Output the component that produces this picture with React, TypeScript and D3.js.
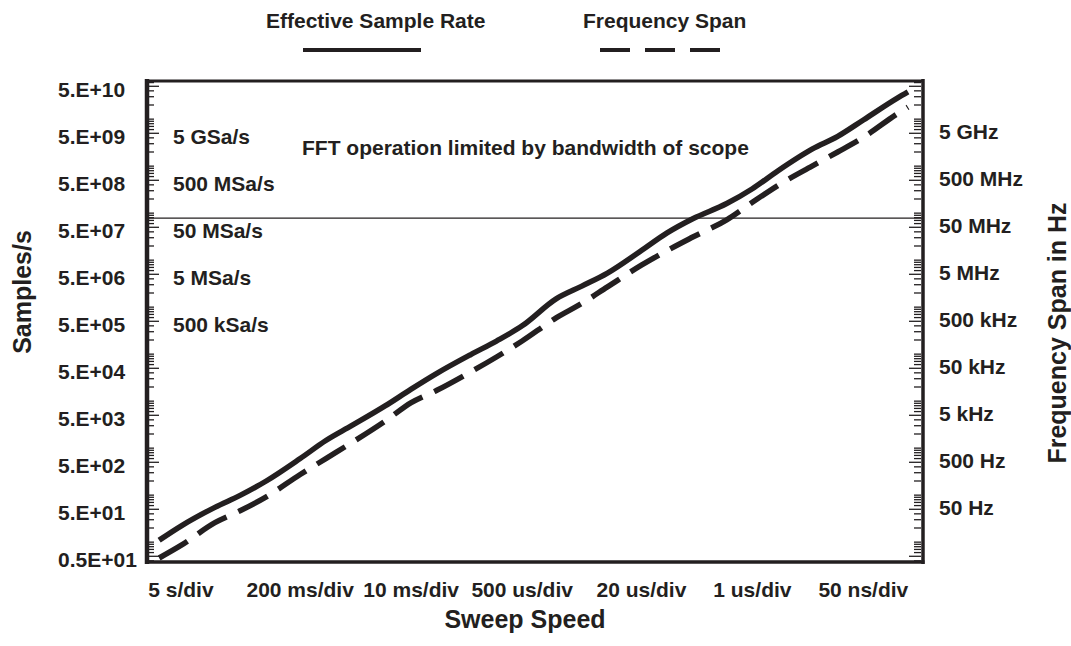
import React from "react";
import * as d3 from "d3";

// ---- data ----
const sweepTickValues = [5, 0.2, 0.01, 5e-4, 2e-5, 1e-6, 5e-8];
const sweepTickLabels = ["5 s/div", "200 ms/div", "10 ms/div", "500 us/div", "20 us/div", "1 us/div", "50 ns/div"];

// sweep speed in s/div (x of each curve point)
const sweepSpeeds = [9, 5, 2, 1, 0.5, 0.2, 0.1, 0.05, 0.02, 0.01, 5e-3, 2e-3, 1e-3, 5e-4, 2e-4, 1e-4, 5e-5, 2e-5, 1e-5, 5e-6, 2e-6, 1e-6, 5e-7, 2e-7, 1e-7, 5e-8, 2e-8, 1.5e-8];
const effectiveSampleRate = [11, 22, 55, 100, 200, 600, 1450, 3000, 8000, 18000, 39000, 98000, 190000, 400000, 1.5e6, 2.8e6, 5.3e6, 1.6e7, 3.8e7, 7.6e7, 1.6e8, 3.3e8, 8e8, 2.3e9, 4.3e9, 9.6e9, 2.8e10, 3.8e10];
const frequencySpan = [4.6, 8.5, 26, 47, 92, 275, 600, 1300, 3800, 9300, 17000, 42000, 87000, 190000, 590000, 1.2e6, 2.7e6, 7.8e6, 1.6e7, 3.1e7, 7.2e7, 1.7e8, 3.9e8, 1e9, 2e9, 4.1e9, 1.3e10, 1.8e10];

const leftTickValues = [5e10, 5e9, 5e8, 5e7, 5e6, 5e5, 5e4, 5e3, 5e2, 5e1, 5];
const leftTickLabels = ["5.E+10", "5.E+09", "5.E+08", "5.E+07", "5.E+06", "5.E+05", "5.E+04", "5.E+03", "5.E+02", "5.E+01", "0.5E+01"];
const rightTickValues = [5e9, 5e8, 5e7, 5e6, 5e5, 5e4, 5e3, 5e2, 5e1];
const rightTickLabels = ["5 GHz", "500 MHz", "50 MHz", "5 MHz", "500 kHz", "50 kHz", "5 kHz", "500 Hz", "50 Hz"];
const rateNoteValues = [5e9, 5e8, 5e7, 5e6, 5e5];
const rateNoteLabels = ["5 GSa/s", "500 MSa/s", "50 MSa/s", "5 MSa/s", "500 kSa/s"];
const bandwidthLimit = 7.8e7;
const bandwidthNote = "FFT operation limited by bandwidth of scope";
const seriesNames = ["Effective Sample Rate", "Frequency Span"];

const W = 1071;
const H = 646;
const FONT = "'Liberation Sans', Arial, Helvetica, sans-serif";
const INK = "#231f20";

export default function App() {
  const left = 147, right = 923, top = 81, bottom = 562;
  const x = d3.scaleLog().domain([12.5, 1e-8]).range([left, right]);
  const y = d3.scaleLog().domain([3.78, 6.48e10]).range([bottom, top]);

  const minorTicks: { v: number; major: boolean }[] = [];
  for (let n = 0; n <= 10; n++) {
    for (let k = 1; k <= 9; k++) {
      const v = k * Math.pow(10, n);
      if (v >= 3.78 && v <= 6.48e10) minorTicks.push({ v, major: k === 5 });
    }
  }

  const line = d3
    .line<[number, number]>()
    .x((d) => x(d[0]))
    .y((d) => y(d[1]))
    .curve(d3.curveMonotoneX);
  const solidPts = sweepSpeeds.map((s, i) => [s, effectiveSampleRate[i]] as [number, number]);
  const dashPts = sweepSpeeds.map((s, i) => [s, frequencySpan[i]] as [number, number]);

  const txt = { fontFamily: FONT, fontWeight: 700, fill: INK } as const;

  return (
    <svg width={W} height={H} style={{ position: "absolute", left: 0, top: 0, background: "#fff" }}>
      {/* legend */}
      <text x={266} y={28} fontSize={21} {...txt}>{seriesNames[0]}</text>
      <line x1={303} x2={421} y1={50} y2={50} stroke={INK} strokeWidth={4} />
      <text x={583} y={28} fontSize={21} {...txt}>{seriesNames[1]}</text>
      <line x1={600} x2={720} y1={50} y2={50} stroke={INK} strokeWidth={4} strokeDasharray="30 15" />

      {/* bandwidth limit line */}
      <line x1={left} x2={right} y1={y(bandwidthLimit)} y2={y(bandwidthLimit)} stroke={INK} strokeWidth={1.3} />

      {/* ticks */}
      {minorTicks.map((t, i) => (
        <g key={"t" + i}>
          <line x1={left + 2} x2={left + (t.major ? 12 : 7)} y1={y(t.v)} y2={y(t.v)} stroke={INK} strokeWidth={1.3} />
          <line x1={right - 2} x2={right - (t.major ? 14 : 9)} y1={y(t.v)} y2={y(t.v)} stroke={INK} strokeWidth={1.3} />
        </g>
      ))}

      {/* curves */}
      <path d={line(solidPts) || ""} fill="none" stroke={INK} strokeWidth={5.5} />
      <path d={line(dashPts) || ""} fill="none" stroke={INK} strokeWidth={5.5} strokeDasharray="33 13" />

      {/* frame */}
      <line x1={left} x2={left} y1={top - 2} y2={bottom + 2} stroke={INK} strokeWidth={4.5} />
      <line x1={right} x2={right} y1={top - 2} y2={bottom + 2} stroke={INK} strokeWidth={3.5} />
      <line x1={left} x2={right} y1={top} y2={top} stroke={INK} strokeWidth={3} />
      <line x1={left} x2={right + 1.5} y1={bottom} y2={bottom} stroke={INK} strokeWidth={3.5} />

      {/* left axis labels */}
      {leftTickValues.map((v, i) => (
        <text key={"l" + i} x={58} y={y(v) + 3} dominantBaseline="central" fontSize={21} {...txt}>
          {leftTickLabels[i]}
        </text>
      ))}
      {/* right axis labels */}
      {rightTickValues.map((v, i) => (
        <text key={"r" + i} x={939} y={y(v) - 2} dominantBaseline="central" fontSize={21} {...txt}>
          {rightTickLabels[i]}
        </text>
      ))}
      {/* in-plot notes */}
      {rateNoteValues.map((v, i) => (
        <text key={"n" + i} x={173} y={y(v) + 3} dominantBaseline="central" fontSize={21} {...txt}>
          {rateNoteLabels[i]}
        </text>
      ))}
      <text x={302} y={y(5e9) + 14} dominantBaseline="central" fontSize={21} {...txt}>{bandwidthNote}</text>

      {/* x tick labels */}
      {sweepTickValues.map((v, i) => (
        <text key={"x" + i} x={x(v)} y={597} textAnchor="middle" fontSize={21} {...txt}>
          {sweepTickLabels[i]}
        </text>
      ))}

      {/* titles */}
      <text x={525} y={628} textAnchor="middle" fontSize={25} {...txt}>Sweep Speed</text>
      <text transform={`translate(22,292) rotate(-90)`} textAnchor="middle" dominantBaseline="central" fontSize={25} {...txt}>
        Samples/s
      </text>
      <text transform={`translate(1057,333) rotate(-90)`} textAnchor="middle" dominantBaseline="central" fontSize={25} {...txt}>
        Frequency Span in Hz
      </text>
    </svg>
  );
}
